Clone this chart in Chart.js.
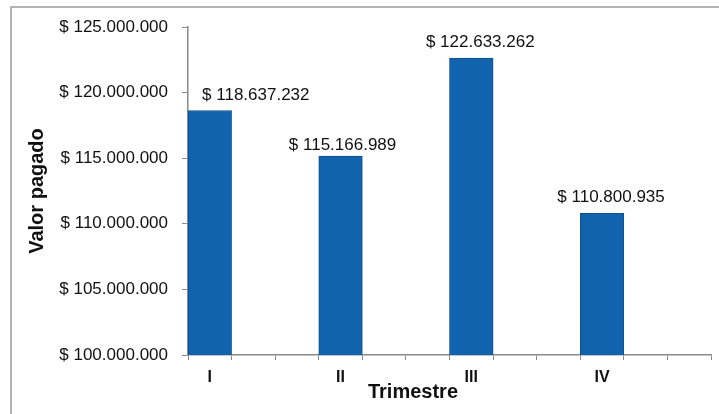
<!DOCTYPE html>
<html>
<head>
<meta charset="utf-8">
<script src="https://cdn.jsdelivr.net/npm/chart.js@4.4.0/dist/chart.umd.min.js"></script>
<style>
  body { margin: 0; background: #fff; }
  #wrap { width: 719px; height: 414px; }
</style>
</head>
<body>
<div id="wrap"><canvas id="valorChart" width="719" height="414"></canvas></div>
<script>
// datos del gráfico
const trimestres = ["I", "II", "III", "IV"];
const valorPagado = [118637232, 115166989, 122633262, 110800935];
const yTicks = [100000000, 105000000, 110000000, 115000000, 120000000, 125000000];

// el eje X original tiene 3 casillas por trimestre (barra en la primera)
const SLOTS = 3;
const slotLabels = [];
const slotValues = [];
trimestres.forEach((t, i) => {
    for (let s = 0; s < SLOTS; s++) {
        slotLabels.push(s === 0 ? t : "");
        slotValues.push(s === 0 ? valorPagado[i] : null);
    }
});

// ajustes de posición de las etiquetas (px), como en la imagen
const labelDx = [46, 2, 9, 9];
const labelDy = [7, 2, 7, 7];

function pesos(n) {
    return "$ " + String(n).replace(/\B(?=(\d{3})+(?!\d))/g, ".");
}

const FONT = "'Liberation Sans', Arial, sans-serif";

// marco gris alrededor del gráfico
const framePlugin = {
    id: "frame",
    beforeDraw(chart) {
        const ctx = chart.ctx;
        ctx.save();
        ctx.fillStyle = "#fff";
        ctx.fillRect(0, 0, chart.width, chart.height);
        ctx.strokeStyle = "#9a9a9a";
        ctx.lineWidth = 1.5;
        ctx.strokeRect(11, 7, chart.width + 20, chart.height + 20);
        ctx.restore();
    }
};

// etiquetas de valor encima de cada barra + título eje X
const labelsPlugin = {
    id: "valueLabels",
    afterDatasetsDraw(chart) {
        const ctx = chart.ctx;
        const meta = chart.getDatasetMeta(0);
        ctx.save();
        ctx.font = "17px " + FONT;
        ctx.fillStyle = "#111";
        ctx.textAlign = "center";
        ctx.textBaseline = "bottom";
        let k = 0;
        meta.data.forEach((bar, i) => {
            const v = slotValues[i];
            if (v === null) return;
            ctx.fillText(pesos(v), bar.x + labelDx[k], bar.y - labelDy[k]);
            k++;
        });
        ctx.font = "bold 20px " + FONT;
        ctx.textBaseline = "middle";
        ctx.fillText("Trimestre", 413, 392);
        ctx.restore();
    }
};

const ctx = document.getElementById("valorChart").getContext("2d");
new Chart(ctx, {
    type: "bar",
    data: {
        labels: slotLabels,
        datasets: [{
            data: slotValues,
            backgroundColor: "#1263ae",
            borderColor: "#0d4f8f",
            borderWidth: 1,
            barPercentage: 1,
            categoryPercentage: 1
        }]
    },
    options: {
        responsive: false,
        animation: false,
        layout: { padding: { left: 20, right: 8, top: 27, bottom: 0 } },
        plugins: {
            legend: { display: false },
            tooltip: { enabled: false }
        },
        scales: {
            x: {
                offset: true,
                grid: {
                    offset: true,
                    drawOnChartArea: false,
                    drawTicks: true,
                    tickLength: 5,
                    color: "#8a8a8a"
                },
                border: { display: true, color: "#8a8a8a", width: 1.5 },
                ticks: {
                    autoSkip: false,
                    maxRotation: 0,
                    padding: 8,
                    color: "#111",
                    font: { family: FONT, size: 16, weight: "bold" }
                },
                afterFit(scale) { scale.height = 59; }
            },
            y: {
                min: 100000000,
                max: 125000000,
                afterBuildTicks(scale) { scale.ticks = yTicks.map(v => ({ value: v })); },
                grid: {
                    drawOnChartArea: false,
                    drawTicks: true,
                    tickLength: 6,
                    color: "#8a8a8a"
                },
                border: { display: true, color: "#8a8a8a", width: 1.5 },
                ticks: {
                    padding: 14,
                    color: "#111",
                    font: { family: FONT, size: 17 },
                    callback: v => pesos(v)
                },
                title: {
                    display: true,
                    text: "Valor pagado",
                    color: "#111",
                    padding: { top: 5, bottom: 0 },
                    font: { family: FONT, size: 20, weight: "bold" }
                },
                afterFit(scale) { scale.width = 168; }
            }
        }
    },
    plugins: [framePlugin, labelsPlugin]
});
</script>
</body>
</html>
